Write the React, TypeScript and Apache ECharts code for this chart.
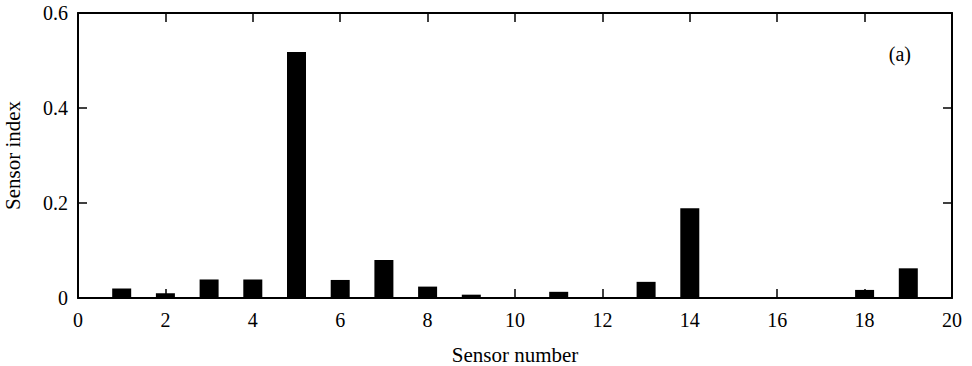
import React, { useEffect, useRef } from "react";
import * as echarts from "echarts";

const sensorNumbers = [1, 2, 3, 4, 5, 6, 7, 8, 9, 10, 11, 12, 13, 14, 15, 16, 17, 18, 19];
const sensorIndex = [0.02, 0.01, 0.039, 0.039, 0.518, 0.038, 0.08, 0.024, 0.007, 0, 0.013, 0, 0.034, 0.189, 0, 0, 0, 0.017, 0.0625];
const xTitle = "Sensor number";
const yTitle = "Sensor index";
const panelLabel = "(a)";

const FONT = "Liberation Serif";

export default function App() {
  const ref = useRef<HTMLDivElement>(null);
  useEffect(() => {
    if (!ref.current) return;
    const chart = echarts.init(ref.current, undefined, { renderer: "svg" });
    const axisLine = { show: true, onZero: false, lineStyle: { color: "#000", width: 2 } };
    const tickStyle = { color: "#000", width: 1.5 };
    chart.setOption({
      animation: false,
      backgroundColor: "#fff",
      grid: {
        left: 78,
        right: 20,
        top: 13,
        bottom: 68,
        containLabel: false,
        outerBoundsMode: "none",
      },
      xAxis: [
        {
          type: "value",
          min: 0,
          max: 20,
          interval: 2,
          position: "bottom",
          name: xTitle,
          nameLocation: "middle",
          nameGap: 46,
          nameTextStyle: { fontFamily: FONT, fontSize: 21, color: "#000" },
          axisLine,
          axisTick: { show: true, inside: true, length: 9, lineStyle: tickStyle },
          axisLabel: { fontFamily: FONT, fontSize: 20, color: "#000", margin: 12 },
          splitLine: { show: false },
        },
        {
          type: "value",
          min: 0,
          max: 20,
          interval: 2,
          position: "top",
          axisLine,
          axisTick: { show: true, inside: true, length: 9, lineStyle: tickStyle },
          axisLabel: { show: false },
          splitLine: { show: false },
        },
      ],
      yAxis: [
        {
          type: "value",
          min: 0,
          max: 0.6,
          interval: 0.2,
          position: "left",
          name: yTitle,
          nameLocation: "middle",
          nameGap: 55,
          nameTextStyle: { fontFamily: FONT, fontSize: 21, color: "#000" },
          axisLine,
          axisTick: { show: true, inside: true, length: 9, lineStyle: tickStyle },
          axisLabel: {
            fontFamily: FONT,
            fontSize: 20,
            color: "#000",
            margin: 10,
            formatter: (v: number) => (v === 0 ? "0" : v.toFixed(1)),
          },
          splitLine: { show: false },
        },
        {
          type: "value",
          min: 0,
          max: 0.6,
          interval: 0.2,
          position: "right",
          axisLine,
          axisTick: { show: true, inside: true, length: 9, lineStyle: tickStyle },
          axisLabel: { show: false },
          splitLine: { show: false },
        },
      ],
      series: [
        {
          type: "bar",
          xAxisIndex: 0,
          yAxisIndex: 0,
          barWidth: 19,
          itemStyle: { color: "#000" },
          data: sensorNumbers.map((n, i) => [n, sensorIndex[i]]),
          z: 1,
        },
      ],
      graphic: [
        {
          type: "text",
          right: 61,
          top: 44,
          style: { text: panelLabel, fontFamily: FONT, fontSize: 20, fill: "#000" },
        },
      ],
    });
    return () => chart.dispose();
  }, []);
  return (
    <div
      ref={ref}
      style={{ position: "fixed", left: 0, top: 0, width: 972, height: 366, background: "#fff" }}
    />
  );
}
